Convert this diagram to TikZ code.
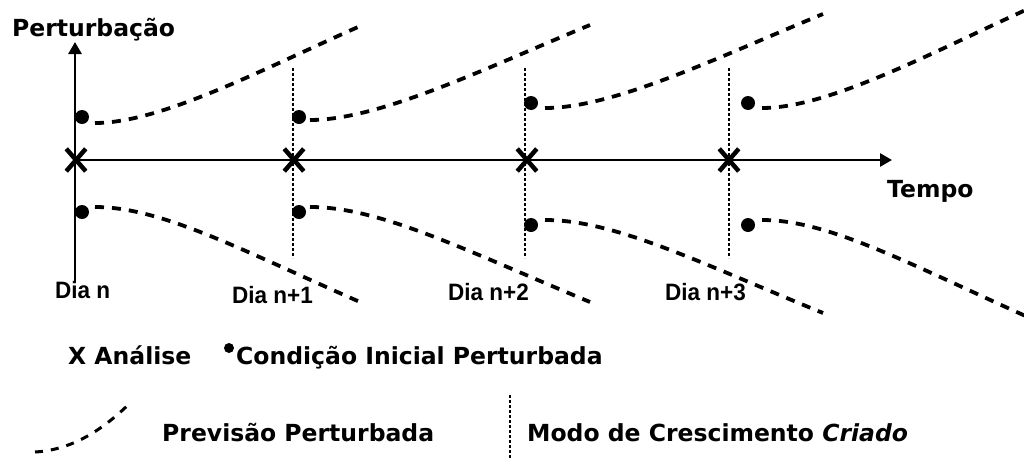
\documentclass[tikz,border=0pt]{standalone}
\usepackage{fontspec}
\setmainfont{DejaVu Sans}
\newfontfamily\narrowfont{Liberation Sans}
\usetikzlibrary{arrows.meta,shapes.misc,calc}
\begin{document}
\begin{tikzpicture}[x=1pt,y=-1pt,
  fcline/.style={line width=3.8pt,dash pattern=on 9pt off 8pt},
  growline/.style={line width=2.4pt,dash pattern=on 3pt off 2pt},
  axline/.style={line width=2.8pt,-{Triangle[length=12pt,width=13pt]}},
  xmark/.style={cross out,draw,line width=4.5pt,minimum width=15pt,minimum height=18pt,inner sep=0pt},
  pdot/.style={circle,fill,minimum size=14pt,inner sep=0pt},
  lab/.style={inner sep=0pt,anchor=base west,font=\fontsize{23.5}{26}\selectfont\bfseries},
  dia/.style={inner sep=0pt,anchor=base west,font=\narrowfont\fontsize{23.7}{26}\selectfont\bfseries}]
\useasboundingbox (0,0) rectangle (1024,461);
% axes
\coordinate (yb) at (75,283);
\coordinate (yt) at (75,42);
\coordinate (xr) at (892,160);
\draw[line width=2.8pt] (yb) -- (75,160);
\draw[axline] (75,160) -- (yt);
\draw[axline] (75,160) -- (xr);
\node[lab] (ylab) at (12,36) {Perturbação};
\node[lab] (xlab) at (887,197) {Tempo};
% growth-mode dotted lines
\foreach \i/\x in {1/293,2/525,3/729}{
  \coordinate (gt\i) at (\x,68);
  \coordinate (gb\i) at (\x,258);
  \draw[growline] (gt\i) -- (gb\i);
}
% analysis marks
\foreach \i/\x in {0/76,1/294,2/527,3/729}{
  \node[xmark] (x\i) at (\x,160) {};
}
% perturbed initial conditions
\foreach \i/\x/\yt/\yb in {0/82/117/212,1/299/117/212,2/531/103/225,3/748/103/225}{
  \node[pdot] (dt\i) at (\x,\yt) {};
  \node[pdot] (db\i) at (\x,\yb) {};
}
% perturbed forecasts (top)
\foreach \i/\sx/\sy/\ex/\ey in {0/95/123/358/27,1/310/120/590/25,2/545/108/823/14,3/762/108/1030/8}{
  \coordinate (ts\i) at (\sx,\sy);
  \coordinate (te\i) at (\ex,\ey);
  \pgfmathsetmacro\w{\ex-\sx}\pgfmathsetmacro\h{\sy-\ey}
  \draw[fcline] (ts\i) .. controls ($(ts\i)+(0.25*\w,0)$) and ($(ts\i)+(0.63*\w,-0.55*\h)$) .. (te\i);
}
% perturbed forecasts (bottom)
\foreach \i/\sx/\sy/\ex/\ey in {0/95/207/360/302,1/310/207/590/302,2/545/220/823/313,3/762/220/1030/318}{
  \coordinate (bs\i) at (\sx,\sy);
  \coordinate (be\i) at (\ex,\ey);
  \pgfmathsetmacro\w{\ex-\sx}\pgfmathsetmacro\h{\ey-\sy}
  \draw[fcline] (bs\i) .. controls ($(bs\i)+(0.25*\w,0)$) and ($(bs\i)+(0.55*\w,0.45*\h)$) .. (be\i);
}
% day labels
\node[dia] (d0) at (55,298) {\scalebox{0.95}[1]{Dia n}};
\node[dia] (d1) at (232,303) {\scalebox{0.95}[1]{Dia n+1}};
\node[dia] (d2) at (448,300) {\scalebox{0.95}[1]{Dia n+2}};
\node[dia] (d3) at (665,300) {\scalebox{0.95}[1]{Dia n+3}};
% legend
\node[lab] (lx) at (68,364) {X Análise};
\node[circle,fill,minimum size=10pt,inner sep=0pt] (lb) at (229,348) {};
\node[lab] (lc) at (236,364) {Condição Inicial Perturbada};
\coordinate (ls) at (35,452);
\coordinate (le) at (128,405);
\draw[fcline,line width=3pt,dash pattern=on 8pt off 8pt] (ls) .. controls (70,450) and (100,432) .. (le);
\node[lab] (lp) at (162,441) {Previsão Perturbada};
\coordinate (lgt) at (510,395);
\coordinate (lgb) at (510,458);
\draw[growline] (lgt) -- (lgb);
\node[lab] (lm) at (527,441) {Modo de Crescimento \textit{Criado}};
\end{tikzpicture}
\end{document}
